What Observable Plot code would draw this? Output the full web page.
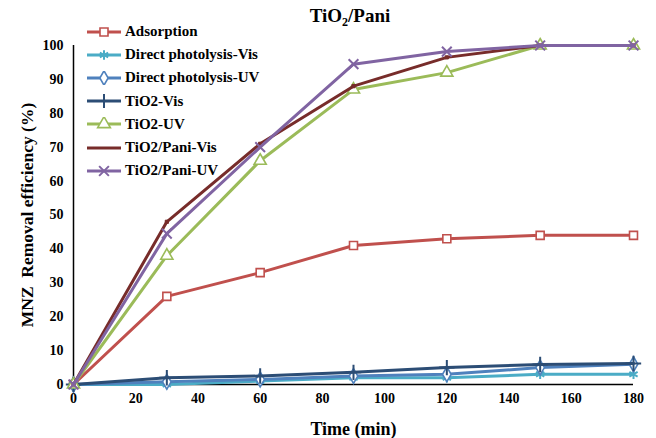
<!DOCTYPE html>
<html>
<head>
<meta charset="utf-8">
<script src="https://cdn.jsdelivr.net/npm/d3@7"></script>
<script src="https://cdn.jsdelivr.net/npm/@observablehq/plot@0.6"></script>
<style>
  body { margin: 0; background: #fff; }
  #wrap { position: relative; width: 656px; height: 438px; font-family: "Liberation Serif", "Times New Roman", serif; }
  #title { height: 32px; text-align: center; font-weight: bold; font-size: 19px; line-height: 32px; padding-left: 44px; box-sizing: border-box; }
  #title sub { font-size: 12px; vertical-align: -4px; line-height: 0; }
  #legend { position: absolute; left: 86px; top: 20px; font-weight: bold; font-size: 15px; }
  .row { display: flex; align-items: center; height: 23.2px; }
  .row svg { margin-right: 3px; }
</style>
</head>
<body>
<div id="wrap">
  <div id="title">TiO<sub>2</sub>/Pani</div>
  <div id="chart"></div>
  <div id="legend"></div>
</div>
<script>
const times = [0, 30, 60, 90, 120, 150, 180];
const seriesNames = ["Adsorption", "Direct photolysis-Vis", "Direct photolysis-UV", "TiO2-Vis", "TiO2-UV", "TiO2/Pani-Vis", "TiO2/Pani-UV"];
const adsorption = [0, 26, 33, 41, 43, 44, 44];
const directVis = [0, 0, 1, 2, 2, 3, 3];
const directUV = [0, 0.8, 1.5, 2.5, 3, 5, 6];
const tio2Vis = [0, 2, 2.5, 3.6, 5, 5.9, 6.2];
const tio2UV = [0, 38, 66, 87, 92, 100, 100];
const paniVis = [0, 48, 71, 88, 96.5, 100, 100];
const paniUV = [0, 44.5, 70, 94.5, 98.2, 100, 100];
const xTicks = [0, 20, 40, 60, 80, 100, 120, 140, 160, 180];
const yTicks = [0, 10, 20, 30, 40, 50, 60, 70, 80, 90, 100];
const colors = ["#C0504D", "#4BACC6", "#4F81BD", "#2C4D75", "#9BBB59", "#772C2A", "#8064A2"];
const symbols = ["square", "asterisk", "diamond", "plus", "triangle", "square", "times"];
const openFill = [true, false, true, false, true, false, false];
const symR = [4.5, 4.5, 4.5, 5, 4.5, 1.8, 4.5];

const seriesValues = [adsorption, directVis, directUV, tio2Vis, tio2UV, paniVis, paniUV];
const data = seriesNames.map((name, i) => times.map((t, j) => ({series: name, time: t, value: seriesValues[i][j]})));

const marks = [];
data.forEach((rows, i) => {
  marks.push(Plot.line(rows, {x: "time", y: "value", stroke: colors[i], strokeWidth: 3, strokeLinejoin: "round"}));
  const symOpts = openFill[i]
    ? {fill: "white", stroke: colors[i], strokeWidth: 1.6}
    : (i === 5 ? {fill: colors[i], stroke: colors[i], strokeWidth: 1} : {fill: "none", stroke: colors[i], strokeWidth: 2});
  marks.push(Plot.dot(rows, {x: "time", y: "value", symbol: () => symbols[i], r: symR[i], ...symOpts}));
});

const chart = Plot.plot({
  width: 656,
  height: 406,
  marginLeft: 73,
  marginRight: 23,
  marginTop: 13,
  marginBottom: 54,
  x: {domain: [0, 180]},
  y: {domain: [0, 100]},
  symbol: {type: "identity"},
  style: {fontFamily: '"Liberation Serif", "Times New Roman", serif', fontSize: "14px", fontWeight: "bold", color: "#000", background: "#fff"},
  marks: [
    Plot.axisX({ticks: xTicks, tickSize: 0, tickPadding: 9, label: null, fontSize: 14}),
    Plot.axisY({ticks: yTicks, tickSize: 0, tickPadding: 10, label: null, fontSize: 14}),
    Plot.ruleY([0], {stroke: "#000", strokeWidth: 1.5}),
    Plot.ruleX([0], {stroke: "#000", strokeWidth: 1.5}),
    Plot.text(["Time (min)"], {frameAnchor: "bottom", dy: 45, lineAnchor: "middle", textAnchor: "middle", fontSize: 18, fontWeight: "bold"}),
    Plot.text(["MNZ  Removal efficiency (%)"], {frameAnchor: "left", dx: -46, rotate: -90, lineAnchor: "middle", textAnchor: "middle", fontSize: 17.5, fontWeight: "bold"}),
    ...marks
  ]
});
document.getElementById("chart").appendChild(chart);

// legend
const legend = d3.select("#legend");
seriesNames.forEach((name, i) => {
  const row = legend.append("div").attr("class", "row");
  const svg = row.append("svg").attr("width", 36).attr("height", 14);
  svg.append("line").attr("x1", 1).attr("x2", 35).attr("y1", 7).attr("y2", 7).attr("stroke", colors[i]).attr("stroke-width", 3);
  if (i !== 5) {
    const symType = {square: d3.symbolSquare, asterisk: d3.symbolAsterisk, diamond: d3.symbolDiamond, plus: d3.symbolPlus, triangle: d3.symbolTriangle, times: d3.symbolTimes}[symbols[i]];
    const size = symbols[i] === "triangle" ? 70 : symbols[i] === "diamond" ? 60 : 64;
    const p = d3.symbol(symType, size)();
    const s = svg.append("path").attr("d", p).attr("transform", "translate(18,7)");
    if (openFill[i]) s.attr("fill", "white").attr("stroke", colors[i]).attr("stroke-width", 1.6);
    else s.attr("fill", "none").attr("stroke", colors[i]).attr("stroke-width", 2);
  }
  row.append("span").text(name);
});
</script>
</body>
</html>
